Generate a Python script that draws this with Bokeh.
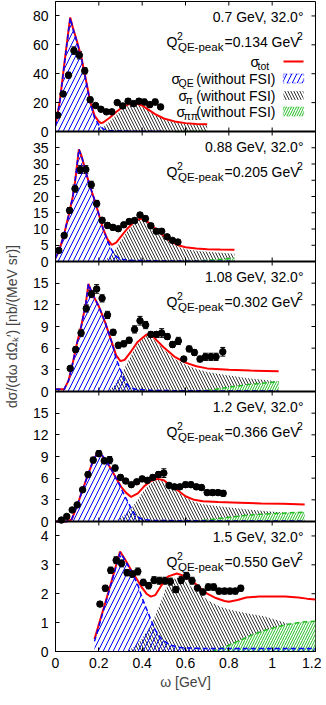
from bokeh.plotting import figure
from bokeh.models import (ColumnDataSource, Range1d, FixedTicker, Label,
                          Whisker, TeeHead, BoxAnnotation, Span)
from bokeh.embed import file_html
from bokeh.resources import INLINE

FONT = "Liberation Sans"
FS = "14px"
SS = "10.5px"
SQ = "11.5px"

# ---------------- data ----------------
x_ticks = [0, 0.2, 0.4, 0.6, 0.8, 1.0, 1.2]
x_tick_labels = ["0", "0.2", "0.4", "0.6", "0.8", "1", "1.2"]

kin_labels = ["0.7 GeV, 32.0°", "0.88 GeV, 32.0°", "1.08 GeV, 32.0°", "1.2 GeV, 32.0°", "1.5 GeV, 32.0°"]
q2_values = ["0.134", "0.205", "0.302", "0.366", "0.550"]
y_max = [90, 40, 18, 18, 4.5]
y_ticks_1 = [0, 20, 40, 60, 80]
y_ticks_2 = [0, 5, 10, 15, 20, 25, 30, 35]
y_ticks_3 = [0, 3, 6, 9, 12, 15]
y_ticks_4 = [0, 3, 6, 9, 12, 15]
y_ticks_5 = [0, 1, 2, 3, 4]

# panel 1: 0.7 GeV
w1 = [0.01, 0.035, 0.06, 0.085, 0.11, 0.135, 0.16, 0.185, 0.21, 0.235, 0.26, 0.285, 0.31, 0.335, 0.36, 0.385, 0.41, 0.435, 0.46, 0.485]
d1 = [11.3, 26.0, 39.0, 56.0, 52.8, 42.0, 22.0, 18.0, 15.4, 13.6, 13.6, 20.0, 17.7, 21.0, 19.3, 21.0, 20.4, 18.6, 20.4, 17.0]
e1 = [1.2, 1.6, 2.0, 2.6, 2.6, 2.2, 1.8, 1.4, 1.2, 1.2, 1.2, 1.4, 1.4, 1.8, 1.6, 1.8, 2.0, 1.8, 2.0, 1.8]
tot1_w = [0.0, 0.02, 0.04, 0.06, 0.068, 0.08, 0.10, 0.12, 0.14, 0.16, 0.18, 0.20, 0.21, 0.22, 0.25, 0.28, 0.31, 0.34, 0.37, 0.40, 0.43, 0.46, 0.50, 0.55, 0.60, 0.65, 0.70]
tot1 = [4.5, 21, 46, 70, 79, 72, 62, 51, 36, 21, 11, 6.8, 5.8, 6.2, 9.5, 13.5, 17, 19, 19.5, 18, 15, 12, 9, 7, 5.8, 5.2, 5.0]
qe1_w = [0.0, 0.02, 0.04, 0.06, 0.068, 0.08, 0.10, 0.12, 0.14, 0.16, 0.18, 0.20, 0.22, 0.25, 0.30, 0.40, 0.50]
qe1 = [3.5, 20.5, 45.5, 69.5, 78.5, 71.5, 61.5, 50.5, 35.5, 20, 9.5, 4.5, 1.8, 0.6, 0.3, 0.15, 0.1]
pi1_w = [0.19, 0.21, 0.24, 0.28, 0.31, 0.34, 0.37, 0.40, 0.43, 0.46, 0.50, 0.55, 0.60, 0.65, 0.70]
pi1 = [0, 1.5, 5.5, 11.5, 15.5, 18, 18.8, 17.3, 14.5, 11.5, 8.5, 6.5, 5.3, 4.7, 4.4]
pipi1_w = [0.55, 0.60, 0.65, 0.70]
pipi1 = [0, 0.05, 0.15, 0.3]

# panel 2: 0.88 GeV
w2 = [0.015, 0.04, 0.065, 0.09, 0.115, 0.14, 0.165, 0.19, 0.215, 0.24, 0.265, 0.29, 0.315, 0.34, 0.365, 0.39, 0.415, 0.44, 0.465, 0.49, 0.515, 0.54, 0.565]
d2 = [3.4, 8.0, 15.7, 22.4, 28.3, 28.3, 23.6, 17.8, 12.7, 11.1, 10.5, 10.1, 11.3, 12.3, 12.6, 14.3, 13.2, 11.0, 9.3, 9.3, 7.6, 6.5, 6.0]
e2 = [0.5, 0.7, 0.9, 1.1, 1.2, 1.2, 1.1, 1.0, 0.8, 0.8, 0.8, 0.7, 0.7, 0.7, 0.7, 0.8, 0.8, 0.7, 0.7, 0.7, 0.6, 0.6, 0.6]
tot2_w = [0.0, 0.02, 0.04, 0.06, 0.08, 0.09, 0.10, 0.108, 0.12, 0.14, 0.16, 0.18, 0.20, 0.22, 0.24, 0.26, 0.28, 0.30, 0.33, 0.36, 0.39, 0.42, 0.45, 0.48, 0.51, 0.54, 0.57, 0.60, 0.65, 0.70, 0.76, 0.826]
tot2 = [1.0, 4.0, 8.5, 14, 20, 24.5, 30, 34.5, 32.5, 27.5, 23, 19, 14.5, 10, 6.8, 5.1, 5.8, 7.5, 10, 12, 13.2, 12.5, 10.8, 9.0, 7.3, 5.8, 4.9, 4.4, 4.0, 3.8, 3.7, 3.6]
qe2_w = [0.0, 0.02, 0.04, 0.06, 0.08, 0.09, 0.10, 0.108, 0.12, 0.14, 0.16, 0.18, 0.20, 0.22, 0.24, 0.26, 0.28, 0.30, 0.35, 0.45, 0.60, 0.826]
qe2 = [1.0, 4.0, 8.5, 14, 20, 24.5, 30, 34.5, 32.5, 27.5, 23, 19, 14.5, 10, 6.3, 3.5, 1.6, 0.7, 0.35, 0.2, 0.1, 0.05]
pi2_w = [0.22, 0.25, 0.28, 0.31, 0.34, 0.37, 0.39, 0.42, 0.45, 0.48, 0.51, 0.54, 0.57, 0.60, 0.65, 0.70, 0.76, 0.826]
pi2 = [0, 1.5, 4.0, 7.3, 10.0, 12.2, 12.9, 12.3, 10.6, 8.8, 7.1, 5.6, 4.5, 3.8, 3.3, 3.0, 2.7, 2.4]
pipi2_w = [0.60, 0.65, 0.70, 0.76, 0.826]
pipi2 = [0, 0.15, 0.35, 0.65, 1.0]

# panel 3: 1.08 GeV
w3 = [0.068, 0.093, 0.118, 0.142, 0.166, 0.19, 0.215, 0.24, 0.266, 0.29, 0.315, 0.34, 0.365, 0.39, 0.416, 0.44, 0.466, 0.49, 0.516, 0.54, 0.567, 0.592, 0.617, 0.641, 0.667, 0.692, 0.717, 0.741, 0.772]
d3 = [3.2, 5.8, 8.1, 11.5, 13.5, 14.2, 12.9, 10.6, 8.2, 6.4, 6.6, 7.1, 8.6, 9.8, 9.2, 7.9, 7.9, 8.1, 7.6, 6.5, 7.0, 4.5, 5.9, 5.4, 4.5, 4.8, 4.8, 4.8, 5.5]
e3 = [0.3, 0.4, 0.5, 0.5, 0.5, 0.6, 0.5, 0.5, 0.4, 0.4, 0.4, 0.4, 0.5, 0.6, 0.5, 0.4, 0.4, 0.6, 0.4, 0.4, 0.5, 0.3, 0.4, 0.4, 0.4, 0.5, 0.5, 0.5, 0.6]
tot3_w = [0.0, 0.04, 0.06, 0.08, 0.10, 0.12, 0.14, 0.152, 0.17, 0.20, 0.23, 0.26, 0.28, 0.30, 0.32, 0.35, 0.38, 0.42, 0.45, 0.50, 0.55, 0.60, 0.65, 0.70, 0.80, 0.90, 1.03]
tot3 = [0.3, 0.3, 1.5, 4.0, 6.8, 9.2, 12.2, 14.9, 13.5, 11.8, 9.5, 6.8, 5.0, 4.2, 4.4, 5.6, 6.9, 7.9, 7.6, 6.1, 4.8, 4.0, 3.5, 3.2, 3.0, 2.9, 2.8]
qe3_w = [0.0, 0.04, 0.06, 0.08, 0.10, 0.12, 0.14, 0.152, 0.17, 0.20, 0.23, 0.26, 0.28, 0.30, 0.32, 0.34, 0.37, 0.45, 0.60, 1.03]
qe3 = [0.3, 0.3, 1.5, 4.0, 6.8, 9.2, 12.2, 14.9, 13.5, 11.8, 9.5, 6.8, 4.5, 3.0, 1.5, 0.6, 0.3, 0.15, 0.1, 0.05]
pi3_w = [0.24, 0.27, 0.30, 0.33, 0.36, 0.39, 0.42, 0.45, 0.50, 0.55, 0.60, 0.65, 0.70, 0.80, 0.90, 1.03]
pi3 = [0, 0.8, 2.2, 3.9, 5.6, 7.0, 7.7, 7.3, 5.8, 4.5, 3.7, 3.1, 2.7, 2.2, 1.8, 1.4]
pipi3_w = [0.66, 0.72, 0.80, 0.90, 1.03]
pipi3 = [0, 0.2, 0.6, 1.0, 1.35]

# panel 4: 1.2 GeV
w4 = [0.027, 0.052, 0.077, 0.1, 0.125, 0.15, 0.174, 0.2, 0.225, 0.25, 0.275, 0.3, 0.324, 0.35, 0.375, 0.4, 0.424, 0.449, 0.475, 0.5, 0.524, 0.549, 0.574, 0.6, 0.625, 0.65, 0.674, 0.7, 0.725, 0.75, 0.774]
d4 = [0.2, 0.7, 1.6, 2.3, 4.4, 6.5, 8.5, 9.4, 8.4, 8.5, 7.4, 6.1, 5.6, 5.1, 5.5, 5.9, 5.7, 6.1, 6.5, 6.7, 5.0, 4.8, 4.8, 5.1, 5.1, 4.8, 4.7, 4.0, 4.0, 4.0, 3.9]
e4 = [0.1, 0.15, 0.2, 0.2, 0.3, 0.35, 0.4, 0.4, 0.4, 0.5, 0.4, 0.35, 0.3, 0.3, 0.3, 0.35, 0.35, 0.35, 0.4, 0.6, 0.3, 0.3, 0.3, 0.35, 0.35, 0.35, 0.35, 0.35, 0.35, 0.35, 0.4]
tot4_w = [0.0, 0.05, 0.075, 0.10, 0.125, 0.15, 0.175, 0.199, 0.23, 0.256, 0.28, 0.303, 0.325, 0.349, 0.38, 0.41, 0.44, 0.472, 0.50, 0.53, 0.565, 0.60, 0.64, 0.68, 0.75, 0.85, 0.95, 1.05, 1.15]
tot4 = [0.0, 0.0, 0.3, 2.2, 4.4, 6.5, 8.5, 9.8, 8.5, 7.3, 6.0, 4.8, 4.0, 3.4, 3.9, 4.9, 5.6, 5.9, 5.7, 5.0, 4.3, 3.5, 3.0, 2.8, 2.7, 2.6, 2.5, 2.45, 2.35]
qe4_w = [0.0, 0.05, 0.075, 0.10, 0.125, 0.15, 0.175, 0.199, 0.23, 0.256, 0.29, 0.32, 0.35, 0.37, 0.40, 0.45, 0.60, 1.15]
qe4 = [0.0, 0.0, 0.3, 2.2, 4.4, 6.5, 8.5, 9.8, 8.6, 7.3, 5.4, 3.5, 1.8, 0.8, 0.3, 0.15, 0.1, 0.05]
pi4_w = [0.27, 0.30, 0.33, 0.36, 0.39, 0.42, 0.45, 0.472, 0.50, 0.53, 0.56, 0.60, 0.64, 0.68, 0.75, 0.85, 0.95, 1.05, 1.15]
pi4 = [0, 0.5, 1.2, 2.2, 3.5, 4.7, 5.5, 5.8, 5.6, 4.9, 4.2, 3.4, 2.7, 2.4, 2.1, 1.8, 1.5, 1.25, 1.05]
pipi4_w = [0.64, 0.70, 0.80, 0.90, 1.0, 1.15]
pipi4 = [0, 0.2, 0.6, 0.9, 1.1, 1.3]

# panel 5: 1.5 GeV
w5 = [0.205, 0.23, 0.255, 0.28, 0.305, 0.33, 0.355, 0.38, 0.405, 0.43, 0.455, 0.48, 0.505, 0.53, 0.555, 0.58, 0.605, 0.63, 0.655, 0.68, 0.705, 0.73, 0.755, 0.78, 0.805, 0.83, 0.855]
d5 = [1.64, 2.19, 2.81, 3.16, 3.05, 2.73, 2.68, 2.77, 2.39, 2.28, 2.47, 2.45, 2.45, 2.42, 2.14, 2.47, 2.62, 2.45, 2.2, 2.06, 2.23, 2.23, 2.09, 2.09, 2.09, 2.09, 2.19]
e5 = [0.08, 0.1, 0.11, 0.12, 0.12, 0.11, 0.11, 0.12, 0.11, 0.11, 0.12, 0.12, 0.12, 0.12, 0.1, 0.12, 0.12, 0.12, 0.1, 0.1, 0.11, 0.11, 0.1, 0.1, 0.1, 0.1, 0.1]
tot5_w = [0.18, 0.24, 0.298, 0.32, 0.35, 0.38, 0.40, 0.42, 0.44, 0.46, 0.49, 0.52, 0.56, 0.60, 0.63, 0.66, 0.70, 0.74, 0.78, 0.80, 0.84, 0.88, 0.94, 1.00, 1.06, 1.12, 1.16, 1.20]
tot5 = [0.43, 1.95, 3.46, 3.2, 2.8, 2.45, 2.2, 2.0, 1.9, 1.95, 2.3, 2.6, 2.7, 2.6, 2.45, 2.25, 2.0, 1.85, 1.75, 1.72, 1.78, 1.87, 1.9, 1.9, 1.9, 1.87, 1.83, 1.8]
qe5_w = [0.18, 0.24, 0.298, 0.32, 0.35, 0.38, 0.40, 0.44, 0.46, 0.49, 0.53, 0.58, 0.70, 1.20]
qe5 = [0.35, 1.9, 3.42, 3.17, 2.78, 2.3, 1.85, 1.1, 0.75, 0.42, 0.22, 0.13, 0.1, 0.1]
pi5_w = [0.33, 0.36, 0.40, 0.44, 0.48, 0.51, 0.54, 0.565, 0.60, 0.64, 0.68, 0.72, 0.76, 0.81, 0.90, 0.97, 1.04, 1.12, 1.20]
pi5 = [0, 0.15, 0.45, 0.9, 1.6, 2.2, 2.5, 2.56, 2.4, 2.15, 1.9, 1.7, 1.55, 1.44, 1.3, 1.2, 1.05, 0.85, 0.65]
pipi5_w = [0.72, 0.78, 0.84, 0.90, 0.96, 1.02, 1.08, 1.14, 1.20]
pipi5 = [0, 0.15, 0.35, 0.55, 0.72, 0.85, 0.95, 1.02, 1.05]

panels = [
    dict(w=w1, d=d1, e=e1, tw=tot1_w, t=tot1, qw=qe1_w, q=qe1, pw=pi1_w, p=pi1, gw=pipi1_w, g=pipi1, yt=y_ticks_1),
    dict(w=w2, d=d2, e=e2, tw=tot2_w, t=tot2, qw=qe2_w, q=qe2, pw=pi2_w, p=pi2, gw=pipi2_w, g=pipi2, yt=y_ticks_2),
    dict(w=w3, d=d3, e=e3, tw=tot3_w, t=tot3, qw=qe3_w, q=qe3, pw=pi3_w, p=pi3, gw=pipi3_w, g=pipi3, yt=y_ticks_3),
    dict(w=w4, d=d4, e=e4, tw=tot4_w, t=tot4, qw=qe4_w, q=qe4, pw=pi4_w, p=pi4, gw=pipi4_w, g=pipi4, yt=y_ticks_4),
    dict(w=w5, d=d5, e=e5, tw=tot5_w, t=tot5, qw=qe5_w, q=qe5, pw=pi5_w, p=pi5, gw=pipi5_w, g=pipi5, yt=y_ticks_5),
]

# ---------------- layout ----------------
NP = 5
PH = 130          # panel height in px
FW = 260          # frame width
FL = 57           # page x of frame left
TL = 4            # tick length, px

RED = "#ff0000"
BLUE = "#0000ff"
GREEN = "#22bb22"

p = figure(frame_width=FW, frame_height=PH * NP, x_range=Range1d(0, 1.2), y_range=Range1d(0, NP),
           output_backend="svg", toolbar_location=None,
           min_border_left=49, min_border_right=6, min_border_top=1, min_border_bottom=37)
p.xgrid.visible = False
p.ygrid.visible = False
p.outline_line_color = "black"
p.outline_line_width = 1
p.background_fill_color = "white"
p.border_fill_color = "white"

for k in range(NP):
    p.extra_y_ranges[f"p{k}"] = Range1d(-(NP - 1 - k) * y_max[k], (k + 1) * y_max[k])


def px(xpage):
    return (xpage - FL) / FW * 1.2


def py(k, t):
    return y_max[k] * (1 - t / PH)


def style_axis(ax):
    ax.minor_tick_line_color = None
    ax.major_tick_in = TL
    ax.major_tick_out = 0
    ax.axis_line_color = "black"
    ax.major_tick_line_color = "black"
    ax.major_label_text_font = FONT
    ax.major_label_text_font_size = FS
    ax.major_label_text_color = "black"


# y ticks for every panel on one shared left axis
ypos, yover = [], {}
for k in range(NP):
    for v in panels[k]["yt"]:
        pos = round((NP - 1 - k) + v / y_max[k], 9)
        ypos.append(pos)
        yover[pos] = str(v)

yax = p.yaxis[0]
yax.ticker = FixedTicker(ticks=ypos)
yax.major_label_overrides = yover
style_axis(yax)
yax.major_label_standoff = 7
yax.axis_label = "dσ/(dω dΩₖ′) [nb/(MeV sr)]"
yax.axis_label_text_font = FONT
yax.axis_label_text_font_size = FS
yax.axis_label_text_font_style = "normal"
yax.axis_label_standoff = 10

xax = p.xaxis[0]
xax.ticker = FixedTicker(ticks=x_ticks)
xax.major_label_overrides = {t: s for t, s in zip(x_ticks, x_tick_labels)}
style_axis(xax)
xax.major_label_standoff = 6
xax.axis_label = "ω [GeV]"
xax.axis_label_text_font = FONT
xax.axis_label_text_font_size = FS
xax.axis_label_text_font_style = "normal"
xax.axis_label_standoff = 3

# panel separators
for j in range(1, NP):
    p.add_layout(Span(location=j, dimension="width", line_color="black", line_width=2))

# mirrored inward ticks: x ticks on every panel edge, y ticks on the right edge
dy = TL / PH
dx = TL / FW * 1.2
seg_x0, seg_y0, seg_x1, seg_y1 = [], [], [], []
for t in x_ticks[1:-1]:
    for j in range(1, NP):
        seg_x0.append(t); seg_x1.append(t); seg_y0.append(j - dy); seg_y1.append(j + dy)
    seg_x0.append(t); seg_x1.append(t); seg_y0.append(NP - dy); seg_y1.append(NP)
for yp in ypos:
    seg_x0.append(1.2 - dx); seg_x1.append(1.2); seg_y0.append(yp); seg_y1.append(yp)
p.segment(x0=seg_x0, y0=seg_y0, x1=seg_x1, y1=seg_y1, line_color="black", line_width=1)

for k in range(NP):
    P = panels[k]
    rn = f"p{k}"
    # sigma_pi (black)
    p.varea(x=P["pw"], y1=0, y2=P["p"], y_range_name=rn, fill_alpha=0,
            hatch_pattern="\\", hatch_color="black", hatch_scale=6, hatch_weight=0.8)
    # sigma_pipi (green, opaque pattern)
    p.varea(x=P["gw"], y1=0, y2=P["g"], y_range_name=rn, fill_color="white", fill_alpha=1,
            hatch_pattern="/", hatch_color=GREEN, hatch_scale=5, hatch_weight=1)
    p.line(P["gw"], P["g"], y_range_name=rn, line_color=GREEN, line_width=1.5, line_dash="5 3")
    # sigma_QE (blue)
    p.varea(x=P["qw"], y1=0, y2=P["q"], y_range_name=rn, fill_alpha=0,
            hatch_pattern="/", hatch_color=BLUE, hatch_scale=10, hatch_weight=1)
    # total (red)
    p.line(P["tw"], P["t"], y_range_name=rn, line_color=RED, line_width=2)
    p.line(P["qw"], P["q"], y_range_name=rn, line_color=BLUE, line_width=1.5, line_dash="5 3")
    # data
    src = ColumnDataSource(dict(x=P["w"], y=P["d"],
                                lo=[a - b for a, b in zip(P["d"], P["e"])],
                                hi=[a + b for a, b in zip(P["d"], P["e"])]))
    p.add_layout(Whisker(source=src, base="x", upper="hi", lower="lo", dimension="height",
                         y_range_name=rn, line_color="black", line_width=1,
                         upper_head=TeeHead(size=5, line_color="black", line_width=1),
                         lower_head=TeeHead(size=5, line_color="black", line_width=1)))
    p.scatter("x", "y", source=src, y_range_name=rn, size=6.5, fill_color="black", line_color="black")

    # panel labels
    def lab(xpage, t, text, size=FS, align="left"):
        p.add_layout(Label(x=px(xpage), y=py(k, t), y_range_name=rn, text=text, text_font=FONT,
                           text_font_size=size, text_align=align, text_baseline="middle",
                           text_color="black"))
    lab(305, 15, kin_labels[k], align="right")
    lab(168, 40, "Q")
    lab(178.5, 34, "2", size=SS)
    lab(179.5, 45, "QE-peak", size=SQ)
    lab(226, 40, "=" + q2_values[k] + " GeV")
    lab(298.5, 34, "2", size=SS)


# legend (panel 1)
def llab(xpage, t, text, size=FS, align="left"):
    p.add_layout(Label(x=px(xpage), y=py(0, t), y_range_name="p0", text=text, text_font=FONT,
                       text_font_size=size, text_align=align, text_baseline="middle", text_color="black"))


rows = [60, 77, 94, 110]
llab(252, rows[0], "σ")
llab(259, rows[0] + 4, "tot", size=SS)
p.add_layout(BoxAnnotation(left=px(285), right=px(305), bottom=py(0, rows[0] + 1), top=py(0, rows[0] - 1),
                           y_range_name="p0", fill_color=RED, fill_alpha=1, line_color=None))
llab(173, rows[1], "σ")
llab(180, rows[1] + 4, "QE", size=SS)
llab(277, rows[1], "(without FSI)", align="right")
p.add_layout(BoxAnnotation(left=px(285), right=px(305), bottom=py(0, rows[1] + 4.5), top=py(0, rows[1] - 4.5),
                           y_range_name="p0", fill_alpha=0, line_color=BLUE, line_width=1.5, line_dash="4 2",
                           hatch_pattern="/", hatch_color=BLUE, hatch_scale=10, hatch_weight=1))
llab(180, rows[2], "σ")
llab(187, rows[2] + 4, "π", size=SS)
llab(277, rows[2], "(without FSI)", align="right")
p.add_layout(BoxAnnotation(left=px(285), right=px(305), bottom=py(0, rows[2] + 4.5), top=py(0, rows[2] - 4.5),
                           y_range_name="p0", fill_alpha=0, line_color=None,
                           hatch_pattern="\\", hatch_color="black", hatch_scale=6, hatch_weight=0.8))
llab(178, rows[3], "σ")
llab(185, rows[3] + 4, "ππ", size=SS)
llab(277, rows[3], "(without FSI)", align="right")
p.add_layout(BoxAnnotation(left=px(285), right=px(305), bottom=py(0, rows[3] + 4.5), top=py(0, rows[3] - 4.5),
                           y_range_name="p0", fill_alpha=0, line_color=GREEN, line_width=1.5, line_dash="4 2",
                           hatch_pattern="/", hatch_color=GREEN, hatch_scale=5, hatch_weight=1))

open("out.html", "w").write(file_html(p, INLINE))
